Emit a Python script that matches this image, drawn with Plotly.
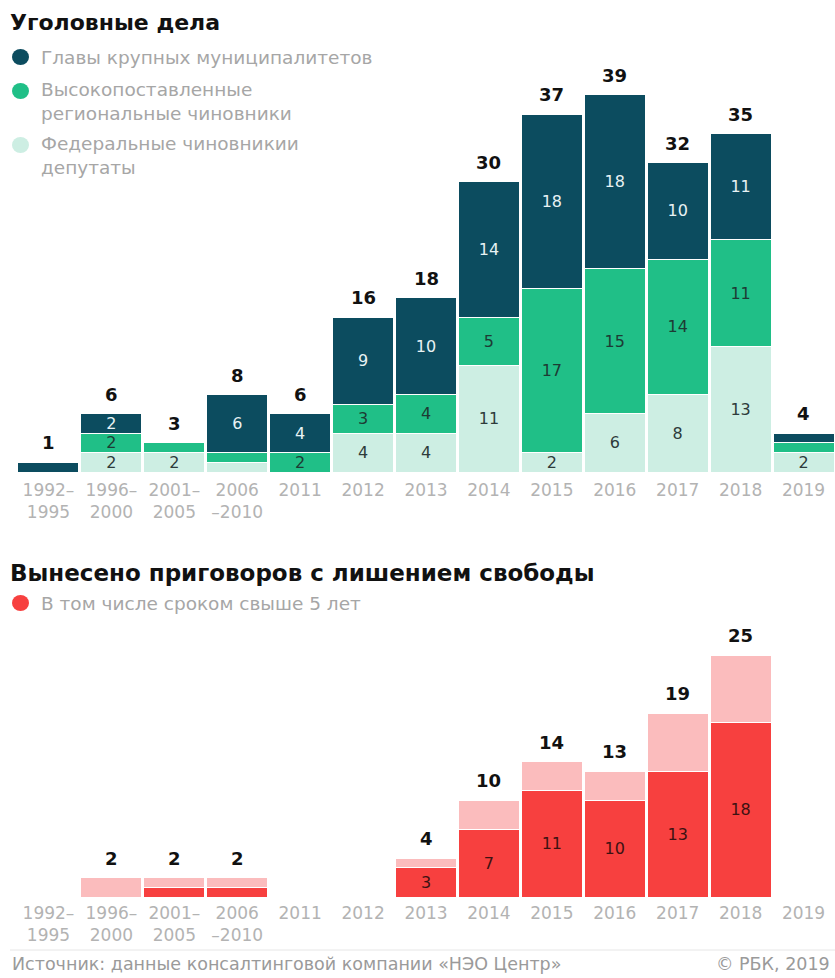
import plotly.graph_objects as go

categories = ["1992–1995", "1996–2000", "2001–2005", "2006–2010", "2011", "2012",
              "2013", "2014", "2015", "2016", "2017", "2018", "2019"]
tick_labels = ["1992–<br>1995", "1996–<br>2000", "2001–<br>2005", "2006<br>–2010", "2011", "2012",
               "2013", "2014", "2015", "2016", "2017", "2018", "2019"]

# Уголовные дела
federal = [0, 2, 2, 1, 0, 4, 4, 11, 2, 6, 8, 13, 2]
regional = [0, 2, 1, 1, 2, 3, 4, 5, 17, 15, 14, 11, 1]
municipal = [1, 2, 0, 6, 4, 9, 10, 14, 18, 18, 10, 11, 1]

# Приговоры
sentences_total = [0, 2, 2, 2, 0, 0, 4, 10, 14, 13, 19, 25, 0]
sentences_over5 = [0, 0, 1, 1, 0, 0, 3, 7, 11, 10, 13, 18, 0]

C_DARK = "#0c4c5f"
C_GREEN = "#20bf87"
C_LIGHT = "#cdeee3"
C_RED = "#f7403f"
C_PINK = "#fbbcbd"

W, H = 835, 978
FONT = "DejaVu Sans"


def px(x):
    return x / W


def py(y):
    return 1 - y / H


def lab(vals):
    return [str(v) if v >= 2 else "" for v in vals]


fig = go.Figure()

common = dict(width=0.97, marker_line=dict(color="white", width=1),
              textposition="inside", insidetextanchor="middle", textangle=0,
              hoverinfo="skip", showlegend=False, constraintext="none")

fig.add_bar(x=categories, y=federal, marker_color=C_LIGHT, text=lab(federal),
            textfont=dict(color="#2e3b3b", size=16, family=FONT), xaxis="x", yaxis="y", **common)
fig.add_bar(x=categories, y=regional, marker_color=C_GREEN, text=lab(regional),
            textfont=dict(color="#1d3b34", size=16, family=FONT), xaxis="x", yaxis="y", **common)
fig.add_bar(x=categories, y=municipal, marker_color=C_DARK, text=lab(municipal),
            textfont=dict(color="#e8f2f4", size=16, family=FONT), xaxis="x", yaxis="y", **common)

pink_part = [t - r for t, r in zip(sentences_total, sentences_over5)]
fig.add_bar(x=categories, y=sentences_over5, marker_color=C_RED, text=lab(sentences_over5),
            textfont=dict(color="#3d1212", size=16, family=FONT), xaxis="x2", yaxis="y2", **common)
fig.add_bar(x=categories, y=pink_part, marker_color=C_PINK, text=["" for _ in pink_part],
            xaxis="x2", yaxis="y2", **common)

annotations = []
totals_top = [a + b + c for a, b, c in zip(federal, regional, municipal)]
for i, t in enumerate(totals_top):
    if t > 0:
        annotations.append(dict(x=i, y=t, xref="x", yref="y", text=f"<b>{t}</b>",
                                showarrow=False, yanchor="bottom", yshift=7,
                                font=dict(size=18, color="#111", family=FONT)))
for i, t in enumerate(sentences_total):
    if t > 0:
        annotations.append(dict(x=i, y=t, xref="x2", yref="y2", text=f"<b>{t}</b>",
                                showarrow=False, yanchor="bottom", yshift=7,
                                font=dict(size=18, color="#111", family=FONT)))

# titles
annotations.append(dict(x=px(8), y=py(22), xref="paper", yref="paper", text="<b>Уголовные дела</b>",
                        showarrow=False, xanchor="left", yanchor="middle",
                        font=dict(size=22, color="#111", family=FONT)))
annotations.append(dict(x=px(8), y=py(573), xref="paper", yref="paper",
                        text="<b>Вынесено приговоров с лишением свободы</b>",
                        showarrow=False, xanchor="left", yanchor="middle",
                        font=dict(size=23, color="#111", family=FONT)))

legend_items = [
    (57, 57, C_DARK, "Главы крупных муниципалитетов"),
    (91, 102, C_GREEN, "Высокопоставленные<br>региональные чиновники"),
    (145, 156, C_LIGHT, "Федеральные чиновникии<br>депутаты"),
    (603, 603, C_RED, "В том числе сроком свыше 5 лет"),
]
shapes = []
for cy, ty, col, txt in legend_items:
    shapes.append(dict(type="circle", xref="paper", yref="paper",
                       x0=px(12), x1=px(29), y0=py(cy + 8), y1=py(cy - 8),
                       fillcolor=col, line=dict(width=0)))
    annotations.append(dict(x=px(39), y=py(ty), xref="paper", yref="paper", text=txt,
                            showarrow=False, xanchor="left", yanchor="middle", align="left",
                            font=dict(size=18.5, color="#a6a6a6", family=FONT)))

# footer
shapes.append(dict(type="line", xref="paper", yref="paper", x0=px(10), x1=1, y0=py(950), y1=py(950),
                   line=dict(color="#e6e6e6", width=1)))
annotations.append(dict(x=px(10), y=py(964), xref="paper", yref="paper",
                        text="Источник: данные консалтинговой компании «НЭО Центр»",
                        showarrow=False, xanchor="left", yanchor="middle",
                        font=dict(size=17.5, color="#9a9a9a", family=FONT)))
annotations.append(dict(x=px(832), y=py(964), xref="paper", yref="paper", text="© РБК, 2019",
                        showarrow=False, xanchor="right", yanchor="middle",
                        font=dict(size=17.5, color="#9a9a9a", family=FONT)))

xcommon = dict(domain=[px(17), 1], range=[-0.5, 12.5], type="category",
               tickvals=categories, ticktext=tick_labels, showgrid=False, showline=False,
               zeroline=False, ticks="", tickfont=dict(size=17, color="#b3b3b3", family=FONT),
               fixedrange=True)

fig.update_layout(
    width=W, height=H, margin=dict(l=0, r=0, t=0, b=0),
    paper_bgcolor="white", plot_bgcolor="white",
    barmode="stack", bargap=0.03,
    xaxis=dict(anchor="y", ticklabelstandoff=6, **xcommon),
    xaxis2=dict(anchor="y2", ticklabelstandoff=4, **xcommon),
    yaxis=dict(domain=[py(472), py(60)], range=[0, 412 / 9.67], visible=False, fixedrange=True),
    yaxis2=dict(domain=[py(897), py(640)], range=[0, 257 / 9.67], visible=False, fixedrange=True),
    annotations=annotations, shapes=shapes,
    font=dict(family=FONT),
)

fig.write_html("out.html")
